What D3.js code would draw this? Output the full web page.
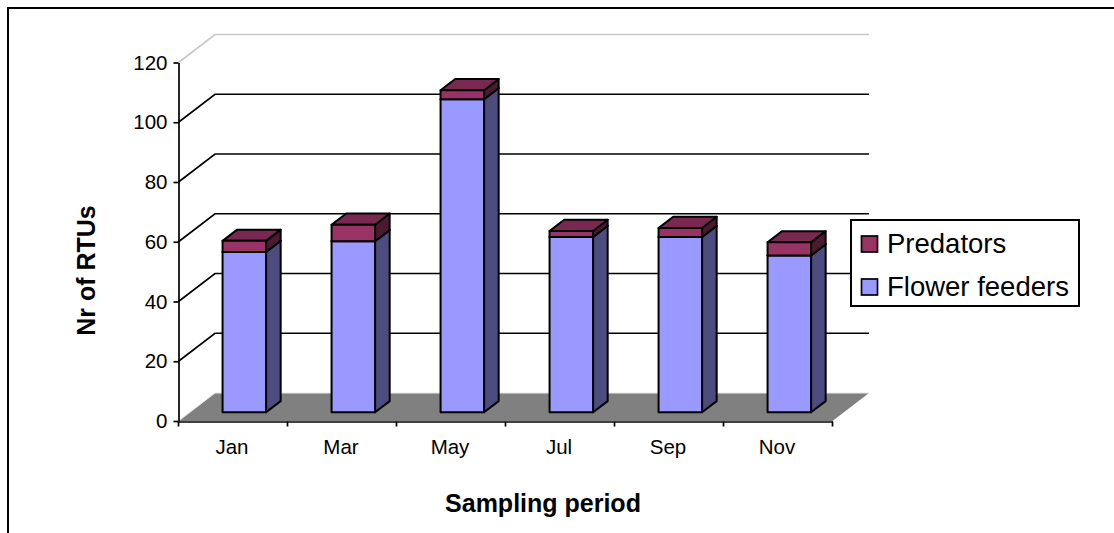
<!doctype html>
<html>
<head>
    <style>
        html, body { margin: 0; padding: 0; background: #fff; }
        svg { display: block; }
        text { font-family: "Liberation Sans", Arial, sans-serif; fill: #000; }
    </style>
    <script src="https://d3js.org/d3.v7.min.js"></script>
</head>
<body>
<svg width="1114" height="533"></svg>
<script>
    var months = ["Jan", "Mar", "May", "Jul", "Sep", "Nov"];
    var flowerFeeders = [53.7, 57.3, 104.8, 58.7, 58.7, 52.5];
    var predators = [3.7, 5.5, 3, 2, 3, 4.4];
    var yTicks = [0, 20, 40, 60, 80, 100, 120];
    var legendNames = ["Predators", "Flower feeders"];

    var svg = d3.select("svg");

    var x = d3.scaleBand().domain(months).range([178.5, 832.5]).padding(0);
    var y = d3.scaleLinear().domain([0, 120]).range([421, 62.5]);

    // depth goes 0 (front) to 1 (back wall)
    var depthX = 36.5, depthY = 28;
    var barFront = 0.31, barBack = 0.71, barWidth = 43.5;

    function pt(px, py, d) {
        return [px + d * depthX, py - d * depthY];
    }
    function poly(points) {
        return points.map(function(p) { return p.join(","); }).join(" ");
    }

    // chart frame: left and top only, both run off the picture
    svg.append("path")
        .attr("d", "M8,540V8H1120")
        .attr("fill", "none")
        .attr("stroke", "#000")
        .attr("stroke-width", 2);

    // floor
    svg.append("polygon")
        .attr("points", poly([pt(178.5, y(0), 0), pt(178.5, y(0), 1), pt(832.5, y(0), 1), pt(832.5, y(0), 0)]))
        .attr("fill", "#808080");

    // gridlines: diagonal on the side wall, then along the back wall
    svg.selectAll(".grid")
        .data(yTicks)
        .enter().append("polyline")
        .attr("class", "grid")
        .attr("points", function(d) {
            return poly([pt(178.5, y(d), 0), pt(178.5, y(d), 1), pt(832.5, y(d), 1)]);
        })
        .attr("fill", "none")
        .attr("stroke", function(d) { return d == 120 ? "#c8c8c8" : (d == 0 ? "#e8e8e8" : "#000"); })
        .attr("stroke-width", function(d) { return d == 0 ? 1 : 1.7; });

    // axes
    svg.append("g")
        .attr("transform", "translate(178.5,0)")
        .call(d3.axisLeft(y).tickValues(yTicks).tickSize(5).tickPadding(6).tickSizeOuter(0))
        .call(function(g) {
            g.selectAll("text").attr("font-size", "20.5px").attr("font-family", null);
            g.selectAll("path,line").attr("stroke", "#000").attr("stroke-width", 1.7);
        });

    var xAxis = svg.append("g")
        .attr("transform", "translate(0,421.5)")
        .call(d3.axisBottom(x).tickSize(0).tickPadding(18).tickSizeOuter(0));
    xAxis.selectAll("text")
        .attr("font-size", "20.5px")
        .attr("font-family", null)
        .attr("dx", "-1");
    xAxis.select(".domain").attr("stroke", "#000").attr("stroke-width", 1.7);
    xAxis.selectAll(".sep")
        .data(months.map(function(m) { return x(m); }).concat([x.range()[1]]))
        .enter().append("line")
        .attr("class", "sep")
        .attr("x1", function(d) { return d; })
        .attr("x2", function(d) { return d; })
        .attr("y1", 0)
        .attr("y2", 5)
        .attr("stroke", "#000")
        .attr("stroke-width", 1.7);

    // one 3d box between two values
    function box(i, low, high, color) {
        var left = x(months[i]) + (x.bandwidth() - barWidth) / 2;
        var right = left + barWidth;
        var g = svg.append("g")
            .attr("stroke", "#000")
            .attr("stroke-width", 2)
            .attr("stroke-linejoin", "round");
        var c = d3.color(color);

        g.append("polygon")
            .attr("fill", c.darker(1.95).toString())
            .attr("points", poly([
                pt(right, y(low), barFront), pt(right, y(low), barBack),
                pt(right, y(high), barBack), pt(right, y(high), barFront)]));
        g.append("polygon")
            .attr("fill", c.darker(0.65).toString())
            .attr("points", poly([
                pt(left, y(high), barFront), pt(left, y(high), barBack),
                pt(right, y(high), barBack), pt(right, y(high), barFront)]));
        g.append("polygon")
            .attr("fill", color)
            .attr("points", poly([
                pt(left, y(low), barFront), pt(right, y(low), barFront),
                pt(right, y(high), barFront), pt(left, y(high), barFront)]));
    }

    months.forEach(function(m, i) {
        box(i, 0, flowerFeeders[i], "#9999ff");
        box(i, flowerFeeders[i], flowerFeeders[i] + predators[i], "#993366");
    });

    // axis titles
    svg.append("text")
        .attr("transform", "translate(94.5,270.5) rotate(-90)")
        .attr("text-anchor", "middle")
        .attr("font-size", "25px")
        .attr("font-weight", "bold")
        .text("Nr of RTUs");

    svg.append("text")
        .attr("x", 543)
        .attr("y", 512)
        .attr("text-anchor", "middle")
        .attr("font-size", "25px")
        .attr("font-weight", "bold")
        .text("Sampling period");

    // legend
    var legendColors = ["#993366", "#9999ff"];
    svg.append("rect")
        .attr("x", 851)
        .attr("y", 220)
        .attr("width", 228)
        .attr("height", 86)
        .attr("fill", "#fff")
        .attr("stroke", "#000")
        .attr("stroke-width", 2);

    var legend = svg.selectAll(".legend")
        .data(legendNames)
        .enter().append("g")
        .attr("class", "legend")
        .attr("transform", function(d, i) { return "translate(0," + (i * 43) + ")"; });

    legend.append("rect")
        .attr("x", 861.5)
        .attr("y", 236)
        .attr("width", 16)
        .attr("height", 16)
        .attr("fill", function(d, i) { return legendColors[i]; })
        .attr("stroke", "#000")
        .attr("stroke-width", 1.7);

    legend.append("text")
        .attr("x", 887)
        .attr("y", 253)
        .attr("font-size", "27.5px")
        .text(function(d) { return d; });
</script>
</body>
</html>
